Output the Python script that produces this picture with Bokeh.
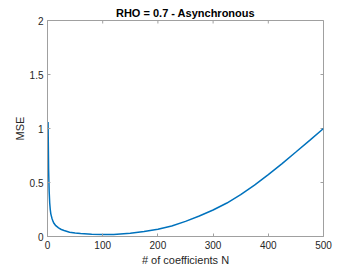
from bokeh.plotting import figure
from bokeh.models import Range1d, NumeralTickFormatter, FixedTicker
from bokeh.embed import file_html
from bokeh.resources import INLINE

title_text = "RHO = 0.7 - Asynchronous"
x_label = "# of coefficients N"
y_label = "MSE"

n_coeffs = [1, 2, 3, 4, 5, 6, 8, 10, 12, 15, 20, 25, 30, 40, 50, 60, 80, 100, 120,
            150, 175, 200, 225, 250, 275, 300, 325, 350, 375, 400, 425, 450, 475, 500]
mse = [1.06, 0.62, 0.42, 0.31, 0.25, 0.21, 0.17, 0.14, 0.12, 0.1, 0.08, 0.065, 0.055,
       0.04, 0.032, 0.027, 0.021, 0.018, 0.019, 0.03, 0.046, 0.067, 0.098, 0.14, 0.19,
       0.245, 0.31, 0.387, 0.475, 0.573, 0.675, 0.782, 0.89, 1.0]

x_ticks = [0, 100, 200, 300, 400, 500]
y_ticks = [0, 0.5, 1, 1.5, 2]
x_min, x_max = 0, 500
y_min, y_max = 0, 2

FONT = "Liberation Sans"
AXIS_COLOR = "#a0a0a0"
TEXT_COLOR = "#262626"

p = figure(width=357, height=268, output_backend="svg", toolbar_location=None,
           x_range=Range1d(x_min, x_max), y_range=Range1d(y_min, y_max),
           min_border_left=47, min_border_right=34, min_border_top=20, min_border_bottom=30)
p.title.text = title_text
p.title.align = "center"
p.title.text_font = FONT
p.title.text_font_size = "11px"
p.title.text_font_style = "bold"
p.title.text_color = "#000000"
p.title.standoff = 3
p.title.offset = 0

p.grid.visible = False
p.outline_line_color = AXIS_COLOR
p.outline_line_width = 1

# inward tick marks on the top and right edges of the box (clipped to the frame)
p.scatter(x_ticks, [y_max] * len(x_ticks), marker="dash", angle=1.5708, size=6,
          line_color=AXIS_COLOR, line_width=1)
p.scatter([x_max] * len(y_ticks), y_ticks, marker="dash", size=6,
          line_color=AXIS_COLOR, line_width=1)

p.line(n_coeffs, mse, line_color="#0072BD", line_width=1.5)

def style(ax):
    ax.axis_line_color = AXIS_COLOR
    ax.major_tick_line_color = AXIS_COLOR
    ax.minor_tick_line_color = None
    ax.major_tick_in = 3
    ax.major_tick_out = 0
    ax.major_label_text_font = FONT
    ax.major_label_text_font_size = "10px"
    ax.major_label_text_color = TEXT_COLOR
    ax.axis_label_text_font = FONT
    ax.axis_label_text_font_size = "11px"
    ax.axis_label_text_font_style = "normal"
    ax.axis_label_text_color = TEXT_COLOR

p.xaxis.ticker = FixedTicker(ticks=x_ticks)
p.yaxis.ticker = FixedTicker(ticks=y_ticks)
p.yaxis.formatter = NumeralTickFormatter(format="0.[0]")
p.xaxis.axis_label = x_label
p.yaxis.axis_label = y_label
style(p.xaxis[0])
style(p.yaxis[0])
p.xaxis.major_label_standoff = 4
p.xaxis.axis_label_standoff = 2
p.yaxis.major_label_standoff = 4
p.yaxis.axis_label_standoff = 1

open("out.html", "w").write(file_html(p, INLINE))
